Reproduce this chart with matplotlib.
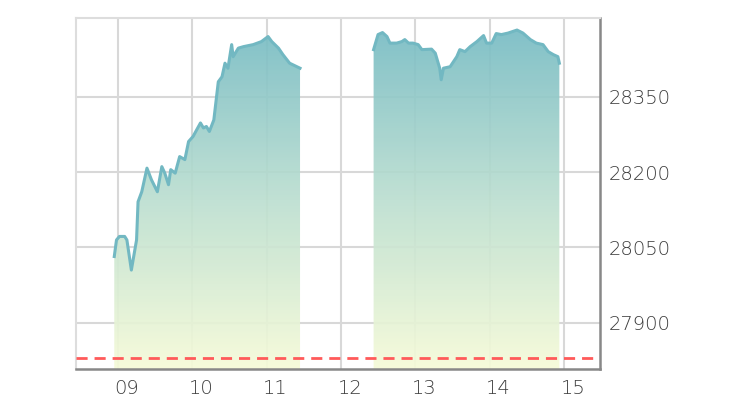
import numpy as np
import matplotlib
matplotlib.use("Agg")
import matplotlib.pyplot as plt
from matplotlib.colors import LinearSegmentedColormap
from matplotlib.transforms import ScaledTranslation

# morning session (hours, index value)
am_time = [8.95, 8.98, 9.02, 9.09, 9.12, 9.18, 9.25, 9.27, 9.32, 9.39, 9.45,
           9.53, 9.59, 9.63, 9.68, 9.71, 9.77, 9.83, 9.90, 9.95, 10.01, 10.11,
           10.15, 10.19, 10.23, 10.29, 10.35, 10.40, 10.44, 10.48, 10.53, 10.55,
           10.62, 10.69, 10.82, 10.93, 11.02, 11.07, 11.16, 11.22, 11.31, 11.45]
am_value = [28032, 28065, 28072, 28072, 28065, 28005, 28065, 28141, 28161, 28208,
            28185, 28161, 28211, 28198, 28175, 28205, 28198, 28231, 28225, 28261,
            28271, 28298, 28288, 28291, 28281, 28304, 28380, 28390, 28417, 28407,
            28454, 28430, 28447, 28450, 28454, 28460, 28470, 28460, 28447, 28434,
            28417, 28407]

# afternoon session
pm_time = [12.44, 12.50, 12.56, 12.62, 12.66, 12.75, 12.82, 12.86, 12.91, 12.97,
           13.04, 13.09, 13.22, 13.27, 13.33, 13.35, 13.38, 13.47, 13.56, 13.60,
           13.67, 13.74, 13.83, 13.92, 13.96, 14.03, 14.09, 14.16, 14.25, 14.37,
           14.45, 14.55, 14.63, 14.72, 14.79, 14.86, 14.92, 14.94]
pm_value = [28444, 28474, 28478, 28470, 28457, 28457, 28460, 28464, 28457, 28457,
            28454, 28444, 28445, 28437, 28407, 28384, 28407, 28410, 28430, 28444,
            28440, 28450, 28460, 28472, 28457, 28457, 28476, 28474, 28477, 28483,
            28477, 28464, 28457, 28454, 28440, 28434, 28430, 28417]

prev_close = 27830
hour_ticks = [9, 10, 11, 12, 13, 14, 15]
hour_labels = ["09", "10", "11", "12", "13", "14", "15"]
y_ticks = [27900, 28050, 28200, 28350]

XMIN, XMAX = 8.435, 15.487
YMIN, YMAX = 27808, 28507

plt.rcParams["font.family"] = ["DejaVu Sans"]

fig = plt.figure(figsize=(7.5, 4.05), dpi=100)
ax = fig.add_axes([76 / 750, 36 / 405, 524 / 750, 351 / 405])

cmap = LinearSegmentedColormap.from_list("fade", ["#f6fbd8", "#bcdfd0", "#78bcc4"])
grad = np.linspace(0, 1, 256).reshape(-1, 1)

for t, v in [(am_time, am_value), (pm_time, pm_value)]:
    poly = ax.fill_between(t, v, YMIN, color="none", lw=0)
    img = ax.imshow(grad, cmap=cmap, origin="lower", aspect="auto", alpha=0.92,
                    extent=[XMIN, XMAX, YMIN, 28480], zorder=2)
    img.set_clip_path(poly.get_paths()[0], transform=ax.transData)
    ax.plot(t, v, color="#72b8c2", lw=2.2, zorder=3)

ax.axhline(prev_close, color="#ff5a5a", lw=2, ls=(0, (4, 2.5)), zorder=4)

ax.set_xlim(XMIN, XMAX)
ax.set_ylim(YMIN, YMAX)
ax.set_xticks(hour_ticks)
ax.set_xticklabels(hour_labels)
ax.set_yticks(y_ticks)
ax.yaxis.tick_right()
ax.tick_params(axis="both", length=0, labelsize=14, colors="#3c3c3c")
ax.tick_params(axis="x", pad=7)
ax.tick_params(axis="y", pad=6)
for lab in ax.get_xticklabels() + ax.get_yticklabels():
    lab.set_fontweight("light")
shift = ScaledTranslation(9 / 100, 0, fig.dpi_scale_trans)
for lab in ax.get_xticklabels():
    lab.set_transform(lab.get_transform() + shift)

ax.grid(True, color="#d8d8d8", lw=1.5, zorder=1)
ax.set_axisbelow(True)
for side in ["top", "left"]:
    ax.spines[side].set_color("#dddddd")
    ax.spines[side].set_linewidth(1.5)
for side in ["bottom", "right"]:
    ax.spines[side].set_color("#888888")
    ax.spines[side].set_linewidth(1.8)

fig.savefig("out.png", dpi=100)
